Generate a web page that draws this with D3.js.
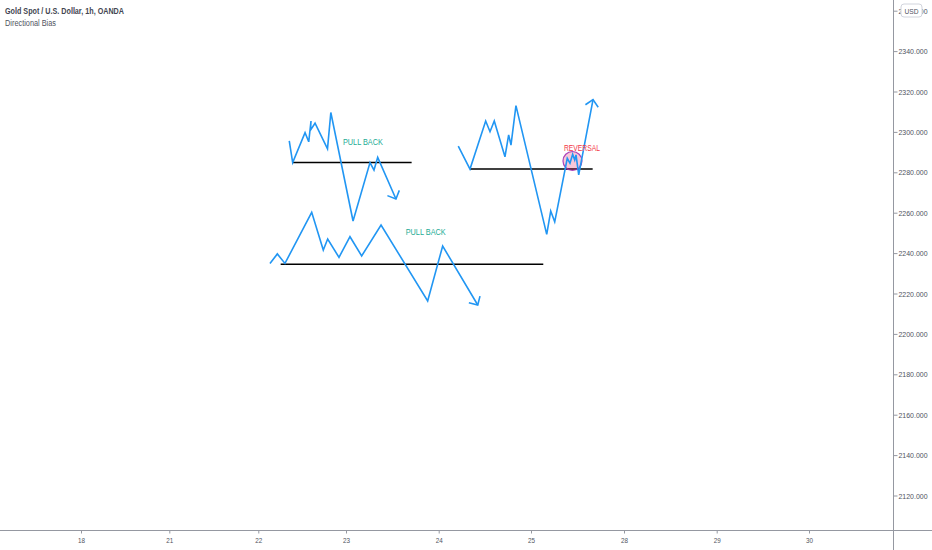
<!DOCTYPE html>
<html>
<head>
<meta charset="utf-8">
<script src="https://d3js.org/d3.v7.min.js"></script>
<style>
  body { margin: 0; background: #fff; }
  svg { display: block; font-family: "Liberation Sans", Lato, sans-serif; }
</style>
</head>
<body>
<script>
// x is the trading-day index from the 18th (weekends skipped), y is price
var dayLabels = ["18", "21", "22", "23", "24", "25", "28", "29", "30"];
var priceTicks = [2120, 2140, 2160, 2180, 2200, 2220, 2240, 2260, 2280, 2300, 2320, 2340, 2360];

// upper-left sketch: rally, break under support, pull back and drop
var sketchA = [[2.353, 2295.5], [2.392, 2284.8], [2.533, 2299.6], [2.575, 2295.1], [2.601, 2305.4],
  [2.595, 2300.9], [2.647, 2304.3], [2.789, 2291.6], [2.827, 2309.6], [3.076, 2255.9],
  [3.259, 2284.8], [3.302, 2281.1], [3.342, 2287.4], [3.539, 2266.8]];
var levelA = [[2.392, 2284.8], [3.708, 2284.8]];
// lower sketch
var sketchC = [[2.133, 2234.9], [2.217, 2239.6], [2.304, 2234.9], [2.609, 2260.2], [2.741, 2241.5],
  [2.791, 2247.0], [2.920, 2237.9], [3.043, 2248.1], [3.169, 2238.6], [3.378, 2253.9],
  [3.881, 2216.3], [4.043, 2243.5], [4.423, 2214.3]];
var levelC = [[2.255, 2234.5], [5.132, 2234.5]];
// right sketch: break down, then reversal back above the level
var sketchB = [[4.212, 2293.0], [4.339, 2281.6], [4.509, 2305.4], [4.556, 2300.1], [4.602, 2305.4],
  [4.718, 2287.7], [4.758, 2298.5], [4.783, 2293.5], [4.837, 2313.0], [5.169, 2249.3],
  [5.212, 2260.8], [5.255, 2255.5], [5.390, 2286.9], [5.419, 2284.5], [5.448, 2288.9],
  [5.470, 2286.1], [5.484, 2288.6], [5.513, 2278.7], [5.667, 2316.0]];
var levelB = [[4.339, 2281.6], [5.663, 2281.6]];

var labels = [
  {text: "PULL BACK", x: 2.965, y: 2295.0, color: "#22ab94", len: 40},
  {text: "PULL BACK", x: 3.644, y: 2250.3, color: "#22ab94", len: 40},
  {text: "REVERSAL", x: 5.355, y: 2291.8, color: "#f23645", len: 36}
];
var reversalSpot = {x: 5.446, y: 2285.6};

var width = 932, height = 550;
var axisX = 893.5, axisY = 530.5;

var svg = d3.select("body").append("svg")
    .attr("width", width)
    .attr("height", height);

// measured tick spots on the time axis (1h bars, uneven session lengths)
var x = d3.scaleLinear()
    .domain(d3.range(dayLabels.length))
    .range([81, 169.3, 258.3, 346, 438.7, 531, 624, 716.7, 809]);

var y = d3.scaleLinear()
    .domain([2120, 2320])
    .range([495.5, 91.5]);

// arrow head
svg.append("defs").append("marker")
    .attr("id", "head")
    .attr("markerUnits", "userSpaceOnUse")
    .attr("viewBox", "-10 -10 20 20")
    .attr("markerWidth", 20)
    .attr("markerHeight", 20)
    .attr("orient", "auto")
    .append("path")
    .attr("d", "M-6.5,-6.5L0,0L-6.5,6.5")
    .attr("fill", "none")
    .attr("stroke", "#2196f3")
    .attr("stroke-width", 1.6);

var line = d3.line().x(d => x(d[0])).y(d => y(d[1]));

// price axis on the right
var yAxis = svg.append("g")
    .attr("transform", "translate(" + axisX + ",0)")
    .call(d3.axisRight(y).tickValues(priceTicks).tickSize(4).tickPadding(1).tickFormat(d3.format(".3f")));
yAxis.select(".domain").remove();
yAxis.selectAll(".tick line").attr("stroke", "#9598a1");
yAxis.selectAll(".tick text").attr("fill", "#50535e").attr("font-size", 8)
    .attr("font-family", "Liberation Sans, sans-serif")
    .attr("textLength", 29).attr("lengthAdjust", "spacingAndGlyphs");

svg.append("line")
    .attr("x1", axisX).attr("x2", axisX)
    .attr("y1", 0).attr("y2", height)
    .attr("stroke", "#9598a1");

// time axis
var xAxis = svg.append("g")
    .attr("transform", "translate(0," + axisY + ")")
    .call(d3.axisBottom(x).tickValues(d3.range(dayLabels.length)).tickFormat(i => dayLabels[i]).tickSize(3).tickPadding(4));
xAxis.select(".domain").remove();
xAxis.selectAll(".tick line").attr("stroke", "#9598a1");
xAxis.selectAll(".tick text").attr("fill", "#50535e").attr("font-size", 8)
    .attr("font-family", "Liberation Sans, sans-serif")
    .attr("textLength", 7).attr("lengthAdjust", "spacingAndGlyphs");

svg.append("line")
    .attr("x1", 0).attr("x2", width)
    .attr("y1", axisY).attr("y2", axisY)
    .attr("stroke", "#9598a1");

// USD badge
var badge = svg.append("g").attr("transform", "translate(901,4)");
badge.append("rect")
    .attr("width", 21).attr("height", 13).attr("rx", 3)
    .attr("fill", "#fff").attr("stroke", "#d1d4dc");
badge.append("text")
    .attr("x", 10.5).attr("y", 9.5)
    .attr("text-anchor", "middle")
    .attr("font-size", 8)
    .attr("fill", "#50535e")
    .attr("textLength", 14).attr("lengthAdjust", "spacingAndGlyphs")
    .text("USD");

// title
svg.append("text")
    .attr("x", 5).attr("y", 13.5)
    .attr("font-size", 8.5).attr("font-weight", "bold")
    .attr("fill", "#434651")
    .attr("textLength", 119).attr("lengthAdjust", "spacingAndGlyphs")
    .text("Gold Spot / U.S. Dollar, 1h, OANDA");
svg.append("text")
    .attr("x", 5).attr("y", 25.5)
    .attr("font-size", 8.5)
    .attr("fill", "#50535e")
    .attr("textLength", 51).attr("lengthAdjust", "spacingAndGlyphs")
    .text("Directional Bias");

// support / resistance levels
svg.selectAll(".level")
    .data([levelA, levelB, levelC]).enter()
    .append("path")
    .attr("class", "level")
    .attr("d", line)
    .attr("fill", "none")
    .attr("stroke", "#000")
    .attr("stroke-width", 1.5);

// reversal marker
svg.append("circle")
    .attr("cx", x(reversalSpot.x))
    .attr("cy", y(reversalSpot.y))
    .attr("r", 9.5)
    .attr("fill", "rgba(233,30,99,0.25)")
    .attr("stroke", "rgba(156,39,176,0.85)")
    .attr("stroke-width", 1.2);

// price path sketches
svg.selectAll(".sketch")
    .data([sketchA, sketchB, sketchC]).enter()
    .append("path")
    .attr("class", "sketch")
    .attr("d", line)
    .attr("fill", "none")
    .attr("stroke", "#2196f3")
    .attr("stroke-width", 1.6)
    .attr("stroke-linejoin", "miter")
    .attr("marker-end", "url(#head)");

svg.selectAll(".note")
    .data(labels).enter()
    .append("text")
    .attr("class", "note")
    .attr("x", d => x(d.x))
    .attr("y", d => y(d.y))
    .attr("dy", "0.35em")
    .attr("font-size", 8.5)
    .attr("fill", d => d.color)
    .attr("textLength", d => d.len).attr("lengthAdjust", "spacingAndGlyphs")
    .text(d => d.text);
</script>
</body>
</html>
